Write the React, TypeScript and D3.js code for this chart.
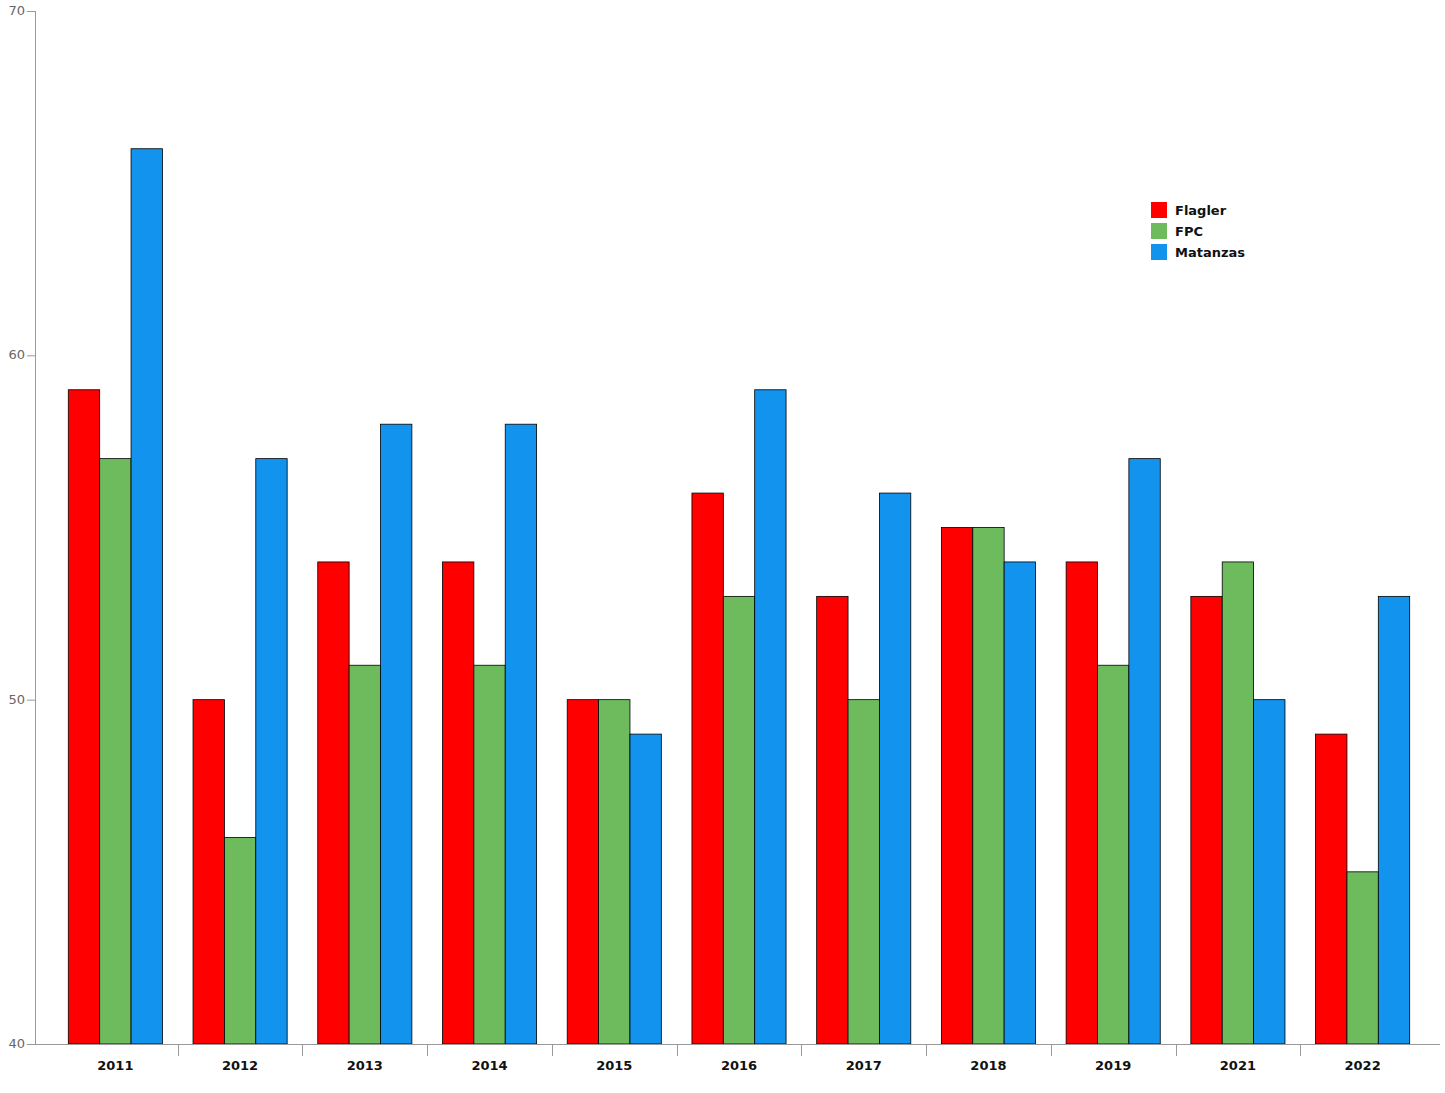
import { useEffect, useRef } from 'react'
import * as d3 from 'd3'

const years = ['2011', '2012', '2013', '2014', '2015', '2016', '2017', '2018', '2019', '2021', '2022']
const seriesNames = ['Flagler', 'FPC', 'Matanzas']
const flagler = [59, 50, 54, 54, 50, 56, 53, 55, 54, 53, 49]
const fpc = [57, 46, 51, 51, 50, 53, 50, 55, 51, 54, 45]
const matanzas = [66, 57, 58, 58, 49, 59, 56, 54, 57, 50, 53]
const yTicks = [40, 50, 60, 70]
const colors = ['#ff0000', '#6dbb5c', '#1193ee']

export default function App() {
  const ref = useRef<SVGSVGElement | null>(null)
  useEffect(() => {
    document.body.style.margin = '0'
    if (!ref.current) return
    const svg = d3.select(ref.current)
    svg.selectAll('*').remove()
    const width = 1445
    const height = 1093
    const font = 'Verdana, "DejaVu Sans", sans-serif'
    const values = [flagler, fpc, matanzas]

    const x = d3.scaleBand().domain(years).range([53, 1425]).paddingInner(0).paddingOuter(0)
    const xi = d3.scaleBand().domain(seriesNames).range([15.3, x.bandwidth() - 15.3])
    const y = d3.scaleLinear().domain([40, 70]).range([1044, 11])

    svg.attr('width', width).attr('height', height)

    const groups = svg
      .append('g')
      .selectAll('g')
      .data(years)
      .enter()
      .append('g')
      .attr('transform', (d) => `translate(${x(d)},0)`)
    groups
      .selectAll('rect')
      .data((_, i) => seriesNames.map((s, k) => ({ s, k, v: values[k][i] })))
      .enter()
      .append('rect')
      .attr('x', (d) => xi(d.s)!)
      .attr('y', (d) => y(d.v))
      .attr('width', xi.bandwidth())
      .attr('height', (d) => y(40) - y(d.v))
      .attr('fill', (d) => colors[d.k])
      .attr('stroke', '#000')
      .attr('stroke-width', 0.8)

    // y axis
    const ya = svg.append('g')
    ya.append('line').attr('x1', 35.5).attr('x2', 35.5).attr('y1', y(70)).attr('y2', y(40)).attr('stroke', '#999')
    yTicks.forEach((t) => {
      ya.append('line').attr('x1', 27).attr('x2', 35.5).attr('y1', y(t) + 0.5).attr('y2', y(t) + 0.5).attr('stroke', '#999')
      ya.append('text')
        .attr('x', 25)
        .attr('y', y(t) + 4)
        .attr('text-anchor', 'end')
        .attr('font-family', font)
        .attr('font-size', 13)
        .attr('fill', '#666')
        .text(t)
    })

    // x axis
    const xa = svg.append('g')
    xa.append('line').attr('x1', 35).attr('x2', 1440).attr('y1', y(40) + 0.5).attr('y2', y(40) + 0.5).attr('stroke', '#999')
    years.slice(1).forEach((yr) => {
      const px = Math.round(x(yr)!) + 0.5
      xa.append('line').attr('x1', px).attr('x2', px).attr('y1', y(40)).attr('y2', y(40) + 12).attr('stroke', '#999')
    })
    years.forEach((yr) => {
      xa.append('text')
        .attr('x', x(yr)! + x.bandwidth() / 2)
        .attr('y', 1070)
        .attr('text-anchor', 'middle')
        .attr('font-family', font)
        .attr('font-size', 13)
        .attr('font-weight', 'bold')
        .attr('fill', '#111')
        .text(yr)
    })

    // legend
    const lg = svg.append('g').attr('transform', 'translate(1151,202)')
    seriesNames.forEach((s, k) => {
      lg.append('rect').attr('x', 0).attr('y', k * 21).attr('width', 16).attr('height', 16).attr('fill', colors[k])
      lg.append('text')
        .attr('x', 24)
        .attr('y', k * 21 + 13)
        .attr('font-family', font)
        .attr('font-size', 13)
        .attr('font-weight', 'bold')
        .attr('fill', '#111')
        .text(s)
    })
  }, [])
  return <svg ref={ref} width={1445} height={1093} />
}
